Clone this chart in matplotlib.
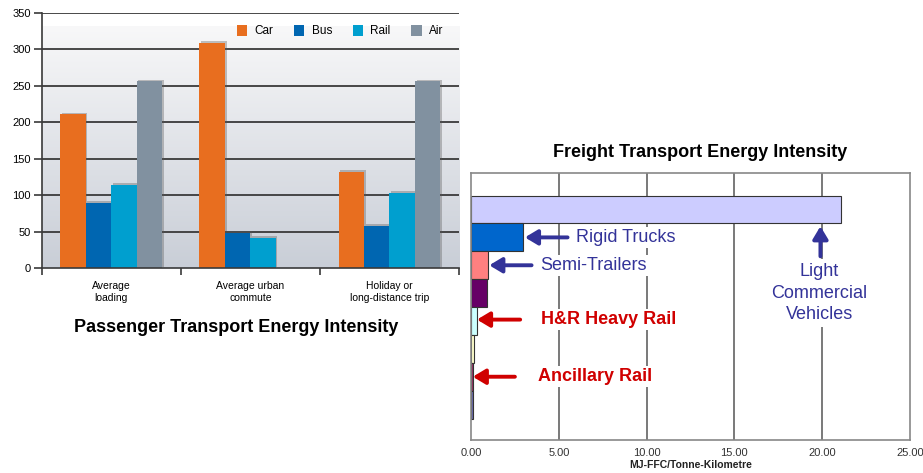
import numpy as np
import matplotlib
matplotlib.use("Agg")
import matplotlib.pyplot as plt
import matplotlib.patheffects as pe
from matplotlib.colors import LinearSegmentedColormap
from matplotlib.patches import Patch

plt.rcParams["font.family"] = ["Liberation Sans", "DejaVu Sans"]

# passenger chart data (MJ per passenger trip equivalents)
trip_types = ["Average\nloading", "Average urban\ncommute", "Holiday or\nlong-distance trip"]
modes = ["Car", "Bus", "Rail", "Air"]
car = [211, 309, 132]
bus = [90, 49, 58]
rail = [114, 42, 103]
air = [256, np.nan, 256]
mode_colors = ["#E86E1F", "#0066B1", "#009FCF", "#8191A0"]

# freight chart data, top to bottom
freight_modes = ["Light Commercial Vehicles", "Rigid Trucks", "Semi-Trailers", "Other Road",
                 "H&R Heavy Rail", "Other Rail", "Ancillary Rail", "Sea"]
freight_mj = [21.07, 2.94, 0.99, 0.89, 0.32, 0.19, 0.12, 0.12]
freight_colors = ["#CCCCFF", "#0066CC", "#FF8080", "#660066",
                  "#CCFFFF", "#FFFFCC", "#993366", "#6B6BB0"]
freight_ticks = [0, 5, 10, 15, 20, 25]


def passenger_chart(fig):
    ax = fig.add_axes([0.0452, 0.4328, 0.4521, 0.5404])
    x = np.arange(len(trip_types))
    w = 0.183

    # soft grey gradient behind the bars, light at the top
    cmap = LinearSegmentedColormap.from_list("bg", ["#F8F8F9", "#C9CED7"])
    grad = np.linspace(0, 1, 256).reshape(-1, 1)
    ax.imshow(grad, cmap=cmap, extent=(-0.5, 2.5, 0, 330), origin="upper", aspect="auto", zorder=0)

    for yv in range(50, 351, 50):
        ax.axhline(yv, color="#3A3A3A", lw=1.3, zorder=1)

    shadow = [pe.SimplePatchShadow(offset=(1.2, 1.2), shadow_rgbFace="#555555", alpha=0.35), pe.Normal()]
    series = [car, bus, rail, air]
    for i, (vals, col) in enumerate(zip(series, mode_colors)):
        bars = ax.bar(x + (i - 1.5) * w, vals, w, color=col, zorder=2)
        for b in bars:
            b.set_path_effects(shadow)

    ax.set_xlim(-0.5, 2.5)
    ax.set_ylim(0, 350)
    ax.set_yticks(range(0, 351, 50))
    ax.tick_params(axis="y", length=6, width=1.2, color="#3A3A3A", labelsize=8, pad=2)
    ax.set_xticks(x)
    ax.set_xticklabels(trip_types, fontsize=7.5, linespacing=1.25)
    ax.set_xticks([-0.5, 0.5, 1.5, 2.5], minor=True)
    ax.tick_params(axis="x", which="major", length=0, pad=9)
    ax.tick_params(axis="x", which="minor", length=5, width=1.2, color="#3A3A3A")
    for side in ["top", "right"]:
        ax.spines[side].set_visible(False)
    for side in ["left", "bottom"]:
        ax.spines[side].set_color("#3A3A3A")
        ax.spines[side].set_linewidth(1.2)

    handles = [Patch(facecolor=c, edgecolor="none") for c in mode_colors]
    leg = ax.legend(handles, modes, loc="center left", bbox_to_anchor=(0.467, 0.928), ncol=4,
                    frameon=False, fontsize=8.5, handlelength=0.9, handleheight=1.1,
                    handletextpad=0.6, columnspacing=1.75, borderpad=0, borderaxespad=0)
    leg.set_zorder(5)

    fig.text(0.2564, 0.3066, "Passenger Transport Energy Intensity", ha="center", va="center",
             fontsize=13, fontweight="bold")


def freight_chart(fig):
    ax = fig.add_axes([0.5103, 0.0698, 0.4756, 0.5638])
    y = np.arange(len(freight_modes))
    ax.barh(y, freight_mj, height=1.0, color=freight_colors, edgecolor="#333333", lw=0.8, zorder=2)
    ax.set_ylim(8.27, -1.3)
    ax.set_xlim(0, 25)
    ax.set_yticks([])
    ax.set_xticks(freight_ticks)
    ax.set_xticklabels(["%.2f" % t for t in freight_ticks], fontsize=8, color="#333333")
    ax.tick_params(axis="x", length=0, pad=6)
    ax.set_xlabel("MJ-FFC/Tonne-Kilometre", fontsize=7.5, fontweight="bold", labelpad=1, color="#222222")
    for t in freight_ticks[1:-1]:
        ax.axvline(t, color="#555555", lw=1.1, zorder=1)
    for s in ax.spines.values():
        s.set_color("#888888")
        s.set_linewidth(1.2)

    blue = "#333399"
    red = "#D00000"
    arrow_blue = dict(arrowstyle="-|>,head_length=0.75,head_width=0.45", lw=2.8, color=blue,
                      shrinkA=0, shrinkB=0)
    arrow_red = dict(arrow_blue, color=red)
    box = dict(facecolor="white", edgecolor="none", pad=1.5)

    ax.annotate("", xy=(freight_mj[1] + 0.13, 1), xytext=(5.5, 1), arrowprops=arrow_blue, zorder=4)
    ax.text(6.0, 1, "Rigid Trucks", color=blue, fontsize=13, va="center", bbox=box, zorder=3)

    ax.annotate("", xy=(freight_mj[2] + 0.05, 2), xytext=(3.45, 2), arrowprops=arrow_blue, zorder=4)
    ax.text(3.95, 2, "Semi-Trailers", color=blue, fontsize=13, va="center", bbox=box, zorder=3)

    ax.annotate("", xy=(freight_mj[4] + 0.02, 3.95), xytext=(2.8, 3.95), arrowprops=arrow_red, zorder=4)
    ax.text(4.0, 3.95, "H&R Heavy Rail", color=red, fontsize=13, fontweight="bold", va="center",
            bbox=box, zorder=3)

    ax.annotate("", xy=(freight_mj[6] - 0.02, 6), xytext=(2.5, 6), arrowprops=arrow_red, zorder=4)
    ax.text(3.8, 6, "Ancillary Rail", color=red, fontsize=13, fontweight="bold", va="center",
            bbox=box, zorder=3)

    ax.annotate("", xy=(19.9, 0.6), xytext=(19.9, 1.68), arrowprops=arrow_blue, zorder=4)
    ax.text(19.85, 3.0, "Light\nCommercial\nVehicles", color=blue, fontsize=13, ha="center",
            va="center", linespacing=1.35, bbox=dict(box, pad=3), zorder=3)

    fig.text(0.758, 0.6786, "Freight Transport Energy Intensity", ha="center", va="center",
             fontsize=13, fontweight="bold")


def main():
    fig = plt.figure(figsize=(9.23, 4.73), dpi=100)
    passenger_chart(fig)
    freight_chart(fig)
    fig.savefig("out.png", dpi=100)


if __name__ == "__main__":
    main()
